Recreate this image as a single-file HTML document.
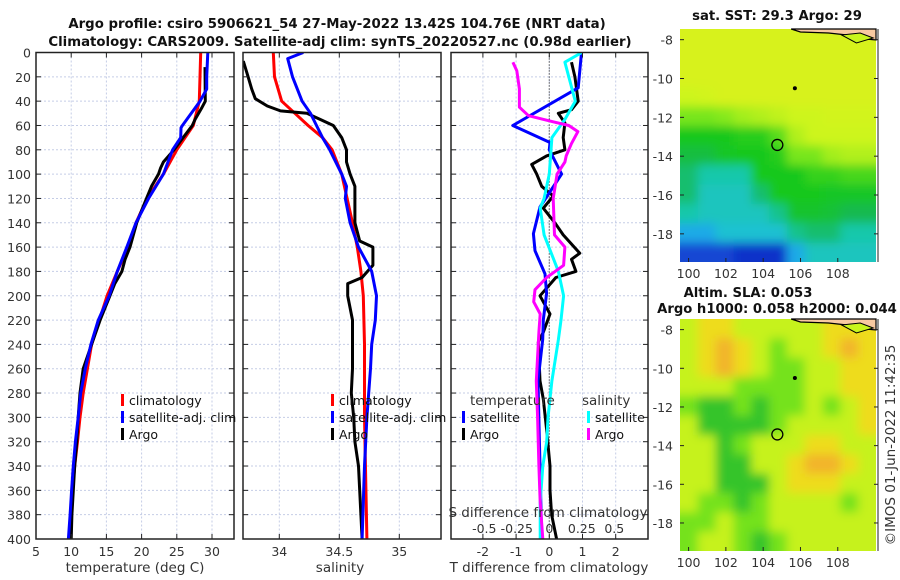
<!DOCTYPE html>
<html><head><meta charset="utf-8">
<style>
html,body{margin:0;padding:0;background:#fff;}
svg{display:block;font-family:"DejaVu Sans","Liberation Sans",sans-serif;}
.tk{font-size:12.5px;fill:#333;}
.ttl{font-size:13.3px;font-weight:bold;fill:#111;}
.mttl{font-size:13.2px;font-weight:bold;fill:#111;}
.lg{font-size:12.5px;fill:#111;}
</style></head>
<body>
<svg id="fig" width="900" height="580" viewBox="0 0 900 580">
<defs>
<filter id="blur" x="-5%" y="-5%" width="110%" height="110%"><feGaussianBlur stdDeviation="5"/></filter>
<clipPath id="mapclip1"><rect x="680" y="29" width="196" height="233"/></clipPath>
<clipPath id="mapclip2"><rect x="680" y="319" width="196" height="232"/></clipPath>
</defs>
<text class="ttl" x="337" y="28" text-anchor="middle">Argo profile: csiro 5906621_54 27-May-2022 13.42S 104.76E (NRT data)</text>
<text class="ttl" x="340" y="46" text-anchor="middle">Climatology: CARS2009. Satellite-adj clim: synTS_20220527.nc (0.98d earlier)</text>
<text class="mttl" x="777" y="20" text-anchor="middle">sat. SST: 29.3 Argo: 29</text>
<text class="mttl" x="748" y="297" text-anchor="middle">Altim. SLA: 0.053</text>
<text class="mttl" x="777" y="313" text-anchor="middle">Argo h1000: 0.058 h2000: 0.044</text>
<text class="tk" transform="translate(895,445) rotate(-90)" text-anchor="middle" style="font-size:13.5px">©IMOS 01-Jun-2022 11:42:35</text>
</svg>
<script>
// ---------- data ----------
const depthTicks=[0,20,40,60,80,100,120,140,160,180,200,220,240,260,280,300,320,340,360,380,400];
const tempTicks=[5,10,15,20,25,30];
const salTicks=[34,34.5,35];
const salTickLabels=["34","34.5","35"];
const tdiffTicks=[-2,-1,0,1,2];
const sdiffTicks=[-0.5,-0.25,0,0.25,0.5];
const sdiffTickLabels=["-0.5","-0.25","0","0.25","0.5"];

const climTdepth=[0,40,60,80,100,120,140,160,180,200,220,240,260,280,300,320,340,360,380,400];
const climT=[28.4,28.2,27.35,25.0,23.1,20.8,19.2,18.1,16.55,15.1,14.0,12.9,12.3,11.7,11.25,10.9,10.5,10.2,9.9,9.7];
const satTdepth=[0,20,30,40,60,62,70,80,100,120,140,160,180,200,220,240,260,280,300,320,340,360,380,400];
const satT=[29.4,29.25,29.25,28.3,25.8,25.6,25.55,24.4,23.1,21.0,19.2,17.9,16.55,15.4,13.85,12.8,12.0,11.35,11.0,10.6,10.3,10.05,9.85,9.6];
const argoTdepth=[12,40,45,55,60,70,80,90,95,100,110,120,140,160,170,180,190,200,220,240,260,280,300,320,340,360,380,400];
const argoT=[29.0,29.05,28.6,27.6,27.2,25.9,24.6,23.1,22.7,22.4,21.4,20.7,19.3,18.35,17.65,17.2,16.2,15.5,14.1,12.9,11.7,11.25,11.0,10.8,10.5,10.3,10.1,10.0];

const climSdepth=[0,20,40,50,60,70,80,100,140,160,180,200,240,300,400];
const climS=[33.95,33.96,34.02,34.13,34.24,34.36,34.44,34.52,34.61,34.65,34.68,34.70,34.71,34.71,34.73];
const satSdepth=[0,5,20,40,50,60,70,80,100,110,120,140,160,180,200,220,240,260,300,340,400];
const satS=[34.20,34.07,34.11,34.19,34.26,34.31,34.36,34.42,34.52,34.56,34.55,34.59,34.66,34.77,34.81,34.80,34.77,34.76,34.73,34.71,34.69];
const argoSdepth=[7,20,30,38,44,48,50,55,60,70,80,90,100,110,140,155,160,175,185,190,200,220,240,260,280,300,320,340,360,380,400];
const argoS=[33.70,33.74,33.77,33.80,33.90,34.01,34.23,34.34,34.45,34.52,34.56,34.56,34.59,34.63,34.63,34.67,34.78,34.78,34.69,34.57,34.57,34.61,34.61,34.61,34.60,34.62,34.63,34.66,34.67,34.68,34.69];

const satTdiffDepth=[0,29,60,74,80,100,127,149,163,182,198,220,236,270,400];
const satTdiff=[0.97,0.87,-1.10,0.02,0.0,0.37,-0.28,-0.48,-0.43,-0.13,-0.08,-0.18,-0.2,-0.34,-0.23];
const argoTdiffDepth=[8,20,40,47,50,58,70,80,85,92,100,110,118,128,140,150,165,170,180,185,200,215,230,238,270,285,310,340,360,380,400];
const argoTdiff=[0.67,0.77,0.87,0.67,0.27,0.47,0.42,0.47,-0.08,-0.53,-0.38,-0.23,0.12,-0.18,0.17,0.42,0.92,0.67,0.80,0.20,-0.28,0.02,-0.18,-0.33,-0.28,-0.18,-0.08,0.02,0.02,0.07,0.22];
const satSdiffDepth=[0,8,40,55,70,100,120,128,150,180,200,220,236,270,300,320,340,370,400];
const satSdiff=[0.25,0.12,0.20,0.12,0.02,0.0,-0.04,-0.07,-0.04,0.07,0.11,0.09,0.07,0.02,-0.01,-0.02,-0.05,-0.07,-0.07];
const argoSdiffDepth=[8,15,30,45,52,57,60,65,75,85,90,100,120,150,160,175,185,195,205,215,230,270,300,340,370,400];
const argoSdiff=[-0.28,-0.25,-0.23,-0.23,-0.16,0.03,0.15,0.22,0.17,0.13,0.12,0.06,0.03,0.04,0.12,0.11,-0.02,-0.11,-0.12,-0.07,-0.08,-0.10,-0.09,-0.08,-0.07,-0.05];

const lonTicks=[100,102,104,106,108];
const latTicks=[-8,-10,-12,-14,-16,-18];
const sstGrid=[
[29.6,29.6,29.6,29.6,29.6,29.6,29.6,29.6,29.6,29.6,29.6],
[29.6,29.6,29.6,29.6,29.6,29.6,29.6,29.6,29.6,29.6,29.6],
[29.6,29.6,29.6,29.6,29.6,29.6,29.6,29.6,29.6,29.6,29.6],
[29.5,29.55,29.6,29.6,29.6,29.6,29.6,29.6,29.6,29.6,29.6],
[29.2,29.2,29.25,29.35,29.4,29.45,29.5,29.5,29.55,29.55,29.55],
[28.9,28.9,28.9,28.95,28.95,29.1,29.4,29.5,29.5,29.5,29.5],
[28.7,28.7,28.85,28.9,28.9,28.95,29.2,29.2,29.35,29.4,29.4],
[28.5,28.3,28.3,28.3,28.9,28.9,28.9,29.0,29.0,29.05,29.05],
[28.5,28.2,28.2,28.2,28.5,28.9,28.9,28.9,28.85,28.85,28.85],
[28.3,28.2,28.2,28.2,28.2,28.4,28.8,28.8,28.75,28.6,28.6],
[27.9,27.9,28.1,28.1,28.1,28.1,28.4,28.5,28.5,28.3,28.3],
[27.4,27.4,27.4,27.3,27.3,27.3,27.9,28.2,28.2,28.2,28.2]];
const slaGrid=[
[2,3,3,2,2,2,2,2,3,3,3],
[2,3,4,3,2,1,2,2,3,4,3],
[2,3,4,3,2,1,1,2,2,3,3],
[2,2,2,1,1,1,1,2,2,3,3],
[1,0,0,1,0,1,1,2,1,2,3],
[2,0,0,0,0,1,2,2,2,2,3],
[2,2,0,1,2,2,2,3,3,2,2],
[2,2,0,0,2,2,3,4,4,3,2],
[2,2,0,0,0,2,3,3,3,2,2],
[2,1,1,0,1,2,2,2,2,1,2],
[1,1,2,1,1,2,2,2,2,2,2],
[1,2,2,1,0,1,2,2,2,2,2]];
const argoLon=104.76, argoLat=-13.42;
const dotLon=105.7, dotLat=-10.5;

// ---------- helpers ----------
const NS="http://www.w3.org/2000/svg";
const svg=document.getElementById('fig');
function el(tag,attrs,parent){const e=document.createElementNS(NS,tag);for(const k in attrs)e.setAttribute(k,attrs[k]);(parent||svg).appendChild(e);return e;}
const Y0=52.5,Y1=539;
const yD=d=>Y0+(d/400)*(Y1-Y0);
const xT=t=>36+(t-5)*7.04;
const xS=s=>279.3+(s-34)*120;
const xTd=t=>549.3+t*33.2;
const xSd=s=>549.3+s*130;

function panel(x0,x1,name,xt,xticks){
  const g=el('g',{},svg);
  
  
  xticks.forEach(v=>{const x=xt(v);
    const l=el('line',{x1:x,x2:x,y1:Y0,y2:Y1,stroke:'#c5cde6','stroke-dasharray':'2,2','stroke-width':1},g);
    });
  depthTicks.forEach(d=>{if(d===0||d===400)return;const y=yD(d);
    const l=el('line',{x1:x0,x2:x1,y1:y,y2:y,stroke:'#c5cde6','stroke-dasharray':'2,2','stroke-width':1},g);
    });
  return g;
}
function frame(g,x0,x1,xt,xticks,xlabels,showDepth){
  const r=el('rect',{x:x0,y:Y0,width:x1-x0,height:Y1-Y0,fill:'none',stroke:'#222','stroke-width':1.5},g);
  
  depthTicks.forEach(d=>{const y=yD(d);
    el('line',{x1:x0,x2:x0+5,y1:y,y2:y,stroke:'#222'},g);
    el('line',{x1:x1-5,x2:x1,y1:y,y2:y,stroke:'#222'},g);
    if(showDepth){const t=el('text',{x:x0-5,y:y+5,'text-anchor':'end',class:'tk'},g);t.textContent=d;
      }
  });
  xticks.forEach((v,i)=>{const x=xt(v);
    el('line',{x1:x,x2:x,y1:Y0,y2:Y0+5,stroke:'#222'},g);
    el('line',{x1:x,x2:x,y1:Y1-5,y2:Y1,stroke:'#222'},g);
    const t=el('text',{x:x,y:556,'text-anchor':'middle',class:'tk'},g);t.textContent=xlabels[i];
    });
}
function line(g,xs,ds,xf,col,name,w){
  const p=xs.map((v,i)=>xf(v).toFixed(1)+','+yD(ds[i]).toFixed(1)).join(' ');
  const e=el('polyline',{points:p,fill:'none',stroke:col,'stroke-width':w||3,'stroke-linejoin':'round'},g);
  
  
}
function legend(g,x,y,items){
  items.forEach((it,i)=>{
    const m=el('rect',{x:x,y:y+i*17-11,width:3,height:12,fill:it[1]},g);
    
    const t=el('text',{x:x+8,y:y+i*17,class:'lg'},g);t.textContent=it[0];
    
  });
}
function label(txt,x,y,name,anchor){const t=el('text',{x:x,y:y,'text-anchor':anchor||'middle',class:'tk',style:'font-size:13.5px'});t.textContent=txt;
  return t;}

// ---------- panel 1 ----------
const g1=panel(36,234,'temperature-panel',xT,tempTicks);
const clip1=el('clipPath',{id:'c1'});el('rect',{x:36,y:Y0,width:198,height:Y1-Y0},clip1);
const l1=el('g',{'clip-path':'url(#c1)'},g1);
line(l1,climT,climTdepth,xT,'#ff0000','climatology-temp-line');
line(l1,argoT,argoTdepth,xT,'#000000','argo-temp-line');
line(l1,satT,satTdepth,xT,'#0000ff','satellite-temp-line');
frame(g1,36,234,xT,tempTicks,tempTicks.map(String),true);
legend(g1,121,405,[['climatology','#ff0000'],['satellite-adj. clim','#0000ff'],['Argo','#000']]);
label('temperature (deg C)',135,572,'temperature-axis-title');

// ---------- panel 2 ----------
const g2=panel(243,441,'salinity-panel',xS,salTicks);
const clip2=el('clipPath',{id:'c2'});el('rect',{x:243,y:Y0,width:198,height:Y1-Y0},clip2);
const l2=el('g',{'clip-path':'url(#c2)'},g2);
line(l2,climS,climSdepth,xS,'#ff0000','climatology-salinity-line');
line(l2,argoS,argoSdepth,xS,'#000000','argo-salinity-line');
line(l2,satS,satSdepth,xS,'#0000ff','satellite-salinity-line');
frame(g2,243,441,xS,salTicks,salTickLabels,false);
legend(g2,331,405,[['climatology','#ff0000'],['satellite-adj. clim','#0000ff'],['Argo','#000']]);
label('salinity',340,572,'salinity-axis-title');

// ---------- panel 3 ----------
const g3=panel(451,648,'difference-panel',xTd,tdiffTicks);
const zl=el('line',{x1:xTd(0),x2:xTd(0),y1:Y0,y2:Y1,stroke:'#333','stroke-dasharray':'1,2','stroke-width':1.2},g3);

const clip3=el('clipPath',{id:'c3'});el('rect',{x:451,y:Y0,width:197,height:Y1-Y0},clip3);
const l3=el('g',{'clip-path':'url(#c3)'},g3);
line(l3,argoTdiff,argoTdiffDepth,xTd,'#000000','argo-temp-diff-line');
line(l3,satTdiff,satTdiffDepth,xTd,'#0000ff','satellite-temp-diff-line');
line(l3,satSdiff,satSdiffDepth,xSd,'#00ffff','satellite-salinity-diff-line');
line(l3,argoSdiff,argoSdiffDepth,xSd,'#ff00ff','argo-salinity-diff-line');
frame(g3,451,648,xTd,tdiffTicks,tdiffTicks.map(String),false);
label('temperature',470,405,'legend-temperature-header','start');
label('salinity',582,405,'legend-salinity-header','start');
legend(g3,462,422,[['satellite','#0000ff'],['Argo','#000']]);
legend(g3,587,422,[['satellite','#00ffff'],['Argo','#ff00ff']]);
label('S difference from climatology',548,517,'s-diff-axis-title');
sdiffTicks.forEach((v,i)=>{const t=label(sdiffTickLabels[i],xSd(v),533,'s-diff-tick-label');t.setAttribute('style','font-size:12.5px');});
label('T difference from climatology',549,572,'t-diff-axis-title');

// ---------- maps ----------
function mapPanel(y0,y1,name,grid,colf,clipId){
  const x0=680,x1=876;
  const lonL=99.54,lonR=110.05,latT=-7.45,latB=-19.45;
  const mx=lon=>x0+(lon-lonL)/(lonR-lonL)*(x1-x0);
  const my=lat=>y0+(latT-lat)/(latT-latB)*(y1-y0);
  const g=el('g',{},svg);
  
  
  const cg=el('g',{'clip-path':'url(#'+clipId+')'},g);
  const rows=grid.length,cols=grid[0].length;
  el('rect',{x:x0,y:y0,width:x1-x0,height:y1-y0,fill:colf(grid[0][0])},cg);
  const bg=el('g',{filter:'url(#blur)'},cg);
  const cw=(x1-x0)/cols,ch=(y1-y0)/rows;
  grid.forEach((row,r)=>row.forEach((v,c)=>{
    const cell=el('rect',{x:(x0+c*cw-(c===0?10:0)).toFixed(2),y:(y0+r*ch-(r===0?10:0)).toFixed(2),width:(cw+0.6+(c===0||c===cols-1?10:0)).toFixed(2),height:(ch+0.6+(r===0||r===rows-1?10:0)).toFixed(2),fill:colf(v)},bg);
    
    
  }));
  const land=el('path',{d:`M${mx(105.5)},${y0} L${mx(106)},${y0+3} L${mx(107.5)},${y0+4} L${mx(108.5)},${y0+6} L${mx(109.5)},${y0+10} L${x1},${y0+11} L${x1},${y0} Z`,fill:'#f8c9a0',stroke:'#000','stroke-width':1.2},g);
  
  const isl=el('path',{d:`M${mx(108.2)},${y0+6} L${mx(109.2)},${y0+4} L${mx(109.9)},${y0+9} L${mx(109)},${y0+14} Z`,fill:'#c8f51c',stroke:'#000','stroke-width':1},g);
  
  const dot=el('circle',{cx:mx(dotLon),cy:my(dotLat),r:2,fill:'#000'},g);
  
  const ring=el('circle',{cx:mx(argoLon),cy:my(argoLat),r:5.5,fill:'none',stroke:'#000','stroke-width':1.3},g);
  
  el('line',{x1:x1+2,x2:x1+2,y1:y0,y2:y1,stroke:'#222'},g);
  latTicks.forEach(lat=>{const y=my(lat);
    el('line',{x1:x0,x2:x0+4,y1:y,y2:y,stroke:'#222'},g);
    el('line',{x1:x1-2,x2:x1+2,y1:y,y2:y,stroke:'#222'},g);
    const t=el('text',{x:x0-7,y:y+5,'text-anchor':'end',class:'tk'},g);t.textContent=lat;
    });
  lonTicks.forEach(lon=>{const x=mx(lon);
    el('line',{x1:x,x2:x,y1:y1-4,y2:y1,stroke:'#222'},g);
    const t=el('text',{x:x,y:y1+16,'text-anchor':'middle',class:'tk'},g);t.textContent=lon;
    });
}
function sstColor(v){
  const stops=[[27.2,[10,30,190]],[27.6,[30,110,232]],[28.0,[30,190,230]],[28.3,[25,200,170]],[28.6,[20,185,80]],[28.9,[20,200,30]],[29.2,[120,230,26]],[29.5,[205,245,28]],[29.7,[225,240,25]]];
  if(v<=stops[0][0])return 'rgb('+stops[0][1]+')';
  for(let i=1;i<stops.length;i++){if(v<=stops[i][0]){const a=stops[i-1],b=stops[i],f=(v-a[0])/(b[0]-a[0]);
    return 'rgb('+a[1].map((c,k)=>Math.round(c+(b[1][k]-c)*f)).join(',')+')';}}
  return 'rgb('+stops[stops.length-1][1]+')';
}
const slaColors=['#35c42a','#74e21c','#c6f21e','#eedc1c','#f2b42a'];
mapPanel(29,262,'sst-map',sstGrid,sstColor,'mapclip1');
mapPanel(319,551,'sla-map',slaGrid,v=>slaColors[v],'mapclip2');
</script>
</body></html>
